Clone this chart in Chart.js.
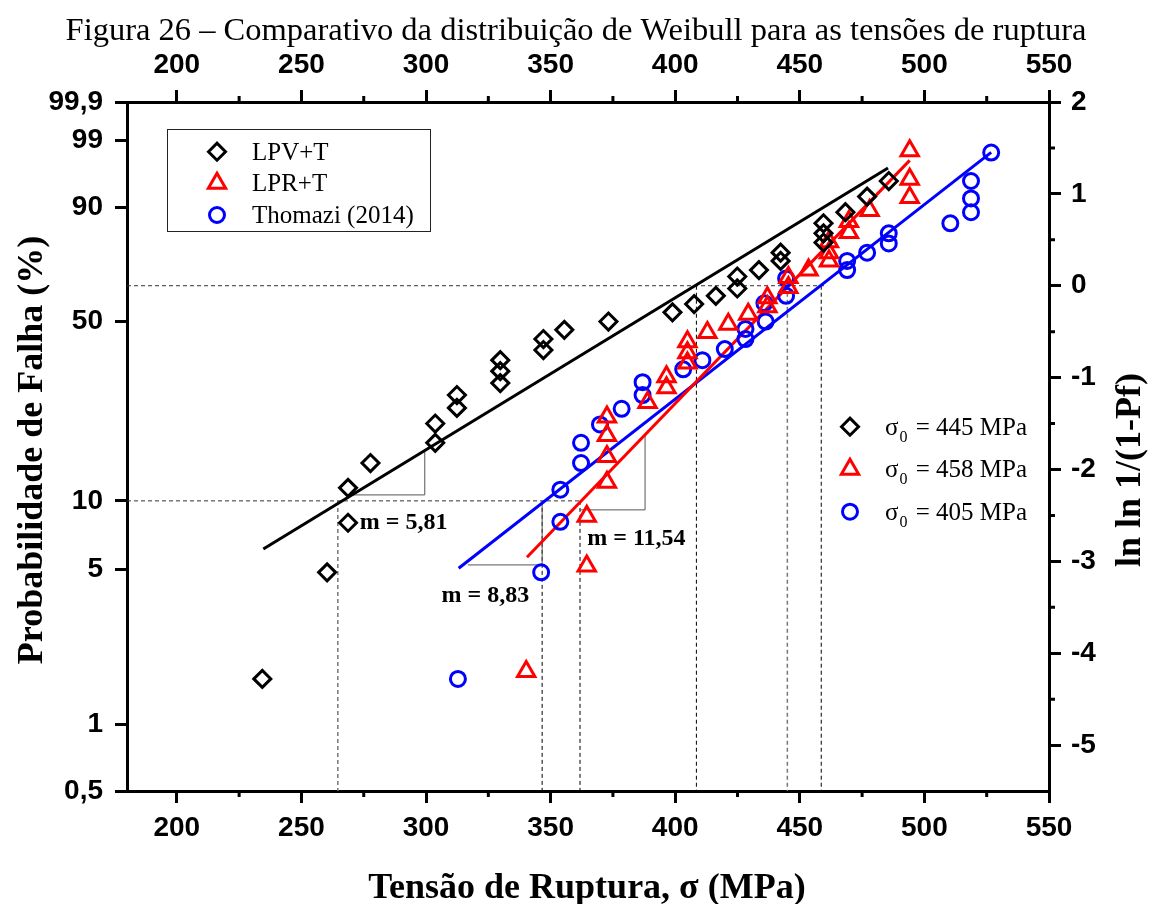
<!DOCTYPE html>
<html>
<head>
<meta charset="utf-8">
<script src="https://cdn.jsdelivr.net/npm/chart.js@4.4.0/dist/chart.umd.min.js"></script>
<style>
  html, body { margin: 0; padding: 0; background: #fff; }
  #wrap { width: 1152px; height: 904px; }
</style>
</head>
<body>
<div id="wrap"><canvas id="chart" width="1152" height="904"></canvas></div>
<script>
// tensões de ruptura (MPa) e ln ln 1/(1-Pf)
const lpvX = [234.3, 260.3, 268.7, 268.7, 277.7, 303.7, 303.7, 312.4, 312.4, 329.8,
              329.8, 329.8, 347.1, 347.1, 355.5, 373.2, 398.9, 407.6, 416.3, 424.9,
              424.9, 433.6, 442.3, 442.3, 459.5, 459.5, 459.5, 468.3, 477.0, 485.7];
const lpvY = [-4.28, -3.12, -2.58, -2.20, -1.93, -1.71, -1.50, -1.33, -1.19, -1.06,
              -0.93, -0.81, -0.70, -0.58, -0.48, -0.39, -0.29, -0.20, -0.11, -0.03,
              0.10, 0.17, 0.27, 0.36, 0.47, 0.57, 0.68, 0.80, 0.97, 1.14];

const lprX = [340.2, 364.5, 364.5, 372.6, 372.6, 372.6, 372.6, 388.9, 396.5, 396.5,
              404.9, 404.9, 404.9, 412.9, 421.3, 429.3, 437.0, 437.0, 445.4, 445.4,
              453.5, 461.7, 461.7, 461.7, 469.7, 469.7, 478.0, 494.1, 494.1, 494.1];
const lprY = [-4.20, -3.05, -2.51, -2.14, -1.86, -1.63, -1.43, -1.27, -1.11, -0.99,
              -0.84, -0.73, -0.61, -0.51, -0.42, -0.31, -0.23, -0.13, -0.02, 0.09,
              0.17, 0.27, 0.36, 0.48, 0.58, 0.70, 0.82, 0.96, 1.16, 1.47];

const thoX = [312.8, 346.2, 353.9, 353.9, 362.2, 362.2, 369.8, 378.5, 386.9, 386.9,
              403.2, 410.9, 419.9, 428.2, 428.2, 436.3, 435.8, 444.5, 444.5, 469.0,
              469.0, 477.0, 485.7, 485.7, 510.4, 518.7, 518.7, 518.7, 526.8];
const thoY = [-4.28, -3.12, -2.57, -2.22, -1.93, -1.71, -1.51, -1.34, -1.19, -1.05,
              -0.91, -0.81, -0.69, -0.58, -0.47, -0.39, -0.19, -0.11, 0.08, 0.17,
              0.27, 0.36, 0.46, 0.57, 0.68, 0.80, 0.95, 1.14, 1.45];

// retas de ajuste
const lpvFitX = [234.7, 485.4], lpvFitY = [-2.865, 1.282];
const lprFitX = [340.5, 494.1], lprFitY = [-2.955, 1.365];
const thoFitX = [313.1, 526.8], thoFitY = [-3.075, 1.452];

// triângulos de inclinação
const lpvSlopeX = [270.2, 299.5, 299.5], lpvSlopeY = [-2.277, -2.277, -1.805];
const thoSlopeX = [316.8, 346.6, 346.6], thoSlopeY = [-3.039, -3.039, -2.367];
const lprSlopeX = [361.5, 387.9, 387.9], lprSlopeY = [-2.440, -2.440, -1.612];

// linhas tracejadas de referência (10% e 63,2%)
const guide10X = [180, 361.7], guide10Y = [-2.342, -2.342];
const guide63X = [180, 460.3], guide63Y = [0, 0];
const dropGrayX = [264.6, 445.0], dropGrayTop = [-2.342, 0];
const dropBlackX = [346.6, 361.8, 408.5, 458.6], dropBlackTop = [-2.342, -2.342, 0, 0];

// eixos
const xTicks = [200, 250, 300, 350, 400, 450, 500, 550];
const xMinor = [225, 275, 325, 375, 425, 475, 525];
const lnTicks = [-5, -4, -3, -2, -1, 0, 1, 2];
const lnMinor = [-4.5, -3.5, -2.5, -1.5, -0.5, 0.5, 1.5];
const probLabels = ['0,5', '1', '5', '10', '50', '90', '99', '99,9'];
const probPos = [-5.5, -4.775, -3.086, -2.342, -0.389, 0.857, 1.583, 2.0];

const seriesNames = ['LPV+T', 'LPR+T', 'Thomazi (2014)'];
const sigma0 = ['445', '458', '405'];
const slopeNotes = ['m = 5,81', 'm = 8,83', 'm = 11,54'];

const zip = (xs, ys) => xs.map((x, i) => ({ x, y: ys[i] }));
const BLACK = '#000000', RED = '#ff0000', BLUE = '#0000ff';
const markers = [
  { color: BLACK, style: 'rectRot', r: 8.5 },
  { color: RED, style: 'triangle', r: 10 },
  { color: BLUE, style: 'circle', r: 7.5 }
];

const pointSet = (label, xs, ys, m) => ({
  label, data: zip(xs, ys), showLine: false,
  pointStyle: m.style, pointRadius: m.r, pointHoverRadius: m.r,
  pointBorderWidth: 3, pointBorderColor: m.color,
  pointBackgroundColor: 'rgba(0,0,0,0)', borderColor: m.color,
  xAxisID: 'x', yAxisID: 'yR'
});
const lineSet = (data, color, width, dash) => ({
  data, showLine: true, pointRadius: 0, pointHoverRadius: 0,
  borderColor: color, borderWidth: width, borderDash: dash || [],
  fill: false, tension: 0, xAxisID: 'x', yAxisID: 'yR'
});

const datasets = [
  pointSet(seriesNames[0], lpvX, lpvY, markers[0]),
  pointSet(seriesNames[1], lprX, lprY, markers[1]),
  pointSet(seriesNames[2], thoX, thoY, markers[2]),
  lineSet(zip(lpvFitX, lpvFitY), BLACK, 3),
  lineSet(zip(lprFitX, lprFitY), RED, 3),
  lineSet(zip(thoFitX, thoFitY), BLUE, 3),
  lineSet(zip(lpvSlopeX, lpvSlopeY), '#555', 1),
  lineSet(zip(thoSlopeX, thoSlopeY), '#555', 1),
  lineSet(zip(lprSlopeX, lprSlopeY), '#555', 1),
  lineSet(zip(guide10X, guide10Y), '#333', 1, [4, 3]),
  lineSet(zip(guide63X, guide63Y), '#333', 1, [4, 3])
];
dropGrayX.forEach((x, i) => datasets.push(lineSet([{ x, y: dropGrayTop[i] }, { x, y: -5.5 }], '#777', 1.5, [4, 3])));
dropBlackX.forEach((x, i) => datasets.push(lineSet([{ x, y: dropBlackTop[i] }, { x, y: -5.5 }], '#000', 1, [4, 3])));

const tickFont = { family: '"Liberation Sans", Arial, sans-serif', size: 28, weight: 'bold' };
const axisGrid = {
  drawOnChartArea: false, drawTicks: true, tickLength: 12,
  lineWidth: 3, tickWidth: 3, color: BLACK, tickColor: BLACK
};
const axisBorder = { display: true, width: 3, color: BLACK };
const fixedTicks = vals => axis => { axis.ticks = vals.map(v => ({ value: v })); };

function marker(ctx, m, x, y) {
  ctx.strokeStyle = m.color;
  ctx.fillStyle = 'rgba(0,0,0,0)';
  ctx.lineWidth = 3;
  Chart.helpers.drawPoint(ctx, { pointStyle: m.style, radius: m.r, borderWidth: 3, rotation: 0 }, x, y);
}

const extras = {
  id: 'extras',
  afterDraw(chart) {
    const { ctx, chartArea: ca, scales } = chart;
    const sx = scales.x, sy = scales.yR;
    ctx.save();

    // ticks secundários
    ctx.strokeStyle = BLACK;
    ctx.lineWidth = 3;
    ctx.beginPath();
    xMinor.forEach(v => {
      const px = sx.getPixelForValue(v);
      ctx.moveTo(px, ca.bottom); ctx.lineTo(px, ca.bottom + 6);
      ctx.moveTo(px, ca.top); ctx.lineTo(px, ca.top - 6);
    });
    lnMinor.forEach(v => {
      const py = sy.getPixelForValue(v);
      ctx.moveTo(ca.right, py); ctx.lineTo(ca.right + 6, py);
    });
    ctx.stroke();

    // título
    ctx.fillStyle = BLACK;
    ctx.textAlign = 'center';
    ctx.textBaseline = 'alphabetic';
    ctx.font = '32.5px "Liberation Serif", "Times New Roman", serif';
    ctx.fillText('Figura 26 \u2013 Comparativo da distribuição de Weibull para as tensões de ruptura', 576, 40);

    // títulos dos eixos
    ctx.font = 'bold 36px "Liberation Serif", "Times New Roman", serif';
    ctx.fillText('Tensão de Ruptura, \u03c3 (MPa)', 587, 898);
    ctx.save();
    ctx.translate(42, 450);
    ctx.rotate(-Math.PI / 2);
    ctx.fillText('Probabilidade de Falha (%)', 0, 0);
    ctx.restore();
    ctx.save();
    ctx.translate(1140, 470);
    ctx.rotate(-Math.PI / 2);
    ctx.fillText('ln ln 1/(1-Pf)', 0, 0);
    ctx.restore();

    // anotações de inclinação
    ctx.font = 'bold 24px "Liberation Serif", "Times New Roman", serif';
    ctx.textAlign = 'left';
    ctx.textBaseline = 'middle';
    const notePos = [[273.4, -2.58], [306.2, -3.374], [364.7, -2.756]];
    slopeNotes.forEach((t, i) => {
      ctx.fillText(t, sx.getPixelForValue(notePos[i][0]), sy.getPixelForValue(notePos[i][1]));
    });

    // legenda com moldura
    ctx.strokeStyle = '#222';
    ctx.lineWidth = 1;
    ctx.strokeRect(167.5, 129.5, 263, 102);
    ctx.font = '25px "Liberation Serif", "Times New Roman", serif';
    ctx.textBaseline = 'alphabetic';
    const rows1 = [151.7, 183.3, 215];
    seriesNames.forEach((n, i) => {
      marker(ctx, markers[i], 217, rows1[i]);
      ctx.fillStyle = BLACK;
      ctx.fillText(n, 252, rows1[i] + 8);
    });

    // legenda dos parâmetros de escala
    const rows2 = [426.7, 469.3, 511.7];
    sigma0.forEach((s, i) => {
      marker(ctx, markers[i], 850, rows2[i]);
      const base = rows2[i] + 8;
      ctx.fillStyle = BLACK;
      ctx.font = '25px "Liberation Serif", "Times New Roman", serif';
      ctx.fillText('\u03c3', 885, base);
      const w = ctx.measureText('\u03c3').width;
      ctx.font = '16px "Liberation Serif", "Times New Roman", serif';
      ctx.fillText('0', 885 + w + 1, base + 7);
      ctx.font = '25px "Liberation Serif", "Times New Roman", serif';
      ctx.fillText(' = ' + s + ' MPa', 885 + w + 11, base);
    });

    ctx.restore();
  }
};

new Chart(document.getElementById('chart'), {
  type: 'scatter',
  data: { datasets },
  options: {
    responsive: false,
    animation: false,
    layout: { padding: 0 },
    plugins: { legend: { display: false }, tooltip: { enabled: false } },
    scales: {
      x: {
        type: 'linear', position: 'bottom', min: 180, max: 550,
        afterBuildTicks: fixedTicks(xTicks),
        ticks: { font: tickFont, color: BLACK, padding: 8, maxRotation: 0 },
        grid: axisGrid, border: axisBorder,
        afterFit: s => { s.height = 113; }
      },
      x2: {
        type: 'linear', position: 'top', min: 180, max: 550,
        afterBuildTicks: fixedTicks(xTicks),
        ticks: { font: tickFont, color: BLACK, padding: 8, maxRotation: 0 },
        grid: axisGrid, border: axisBorder,
        afterFit: s => { s.height = 102; }
      },
      yL: {
        type: 'linear', position: 'left', min: -5.5, max: 2,
        afterBuildTicks: fixedTicks(probPos),
        ticks: { font: tickFont, color: BLACK, padding: 12, callback: (v, i) => probLabels[i] },
        grid: axisGrid, border: axisBorder,
        afterFit: s => { s.width = 127; }
      },
      yR: {
        type: 'linear', position: 'right', min: -5.5, max: 2,
        afterBuildTicks: fixedTicks(lnTicks),
        ticks: { font: tickFont, color: BLACK, padding: 10 },
        grid: axisGrid, border: axisBorder,
        afterFit: s => { s.width = 103; }
      }
    }
  },
  plugins: [extras]
});
</script>
</body>
</html>
